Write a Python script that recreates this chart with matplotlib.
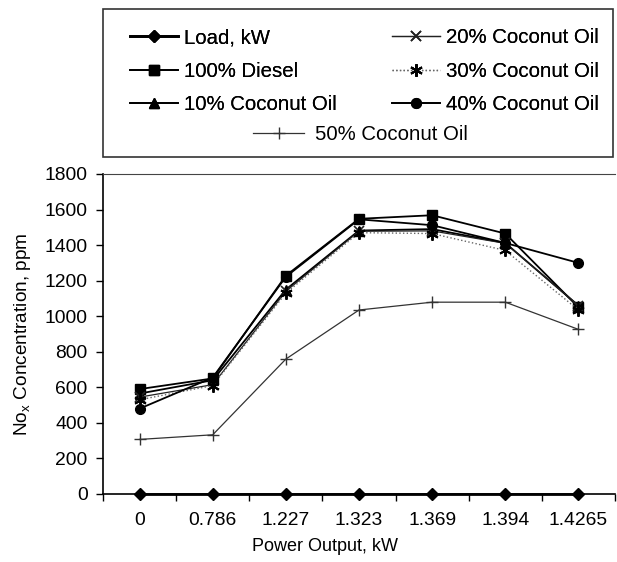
import matplotlib
matplotlib.use("Agg")
import matplotlib.pyplot as plt
from matplotlib.patches import Rectangle

plt.rcParams['font.family'] = ['Liberation Sans', 'DejaVu Sans']
plt.rcParams['mathtext.fontset'] = 'custom'
plt.rcParams['mathtext.rm'] = 'Liberation Sans'
plt.rcParams['mathtext.it'] = 'Liberation Sans'

power_labels = ["0", "0.786", "1.227", "1.323", "1.369", "1.394", "1.4265"]
load_kw = [0, 0, 0, 0, 0, 0, 0]
diesel_100 = [590, 650, 1228, 1548, 1568, 1465, 1050]
coconut_10 = [565, 640, 1150, 1482, 1490, 1412, 1060]
coconut_20 = [545, 615, 1140, 1478, 1480, 1410, 1060]
coconut_30 = [530, 610, 1130, 1470, 1465, 1370, 1035]
coconut_40 = [480, 655, 1222, 1545, 1512, 1412, 1300]
coconut_50 = [307, 333, 759, 1035, 1079, 1079, 926]
y_ticks = [0, 200, 400, 600, 800, 1000, 1200, 1400, 1600, 1800]

W, H = 617, 562
fig = plt.figure(figsize=(W / 100, H / 100), dpi=100)
ax = fig.add_axes([103 / W, (H - 494) / H, 512 / W, 320 / H])

x = list(range(len(power_labels)))
fs_tick = 13.9
fs_leg = 14.7
fs_lab = 13

series = [
    ("Load, kW", load_kw, dict(color='black', lw=2.0, marker='D', ms=6)),
    ("100% Diesel", diesel_100, dict(color='black', lw=1.3, marker='s', ms=6.5)),
    ("10% Coconut Oil", coconut_10, dict(color='black', lw=1.3, marker='^', ms=7)),
    ("20% Coconut Oil", coconut_20, dict(color='#222222', lw=0.9, marker='x', ms=7, mew=1.2)),
    ("30% Coconut Oil", coconut_30, dict(color='#666666', lw=1.0, ls=':', marker=(6, 2, 0), ms=9, mew=1.4, mec='black')),
    ("40% Coconut Oil", coconut_40, dict(color='black', lw=1.3, marker='o', ms=7)),
    ("50% Coconut Oil", coconut_50, dict(color='#333333', lw=0.9, marker='+', ms=8, mew=1.0)),
]

handles = []
for label, vals, style in series:
    h, = ax.plot(x, vals, label=label, clip_on=False, zorder=3, **style)
    handles.append(h)

ax.set_xlim(-0.5, len(x) - 0.5)
ax.set_ylim(0, 1800)
ax.set_yticks(y_ticks)
ax.set_xticks(x)
ax.set_xticklabels(power_labels)
ax.set_xticks([i - 0.5 for i in range(len(x) + 1)], minor=True)
ax.tick_params(axis='x', which='major', length=0, pad=13, labelsize=fs_tick)
ax.tick_params(axis='x', which='minor', length=5, direction='out', width=1)
ax.tick_params(axis='y', length=5, direction='out', width=1, pad=6, labelsize=fs_tick)
ax.spines['right'].set_visible(False)
ax.spines['top'].set_color('#444444')
for s in ('left', 'bottom'):
    ax.spines[s].set_linewidth(1.2)

ax.set_xlabel("Power Output, kW", fontsize=fs_lab)
ax.xaxis.set_label_coords((325 - 103) / 512, (494 - 538) / 320)
ax.set_ylabel(r"No$_\mathregular{x}$ Concentration, ppm", fontsize=fs_lab + 0.7, labelpad=8)

# legend: two columns of three, plus a centered last row
leg1 = fig.legend(handles[:6], [s[0] for s in series[:6]], ncol=2,
                  loc='upper left', bbox_to_anchor=(130 / W, 1 - 28 / H),
                  frameon=False, fontsize=fs_leg, handlelength=2.35,
                  handletextpad=0.3, columnspacing=2.7, labelspacing=0.72,
                  borderpad=0, borderaxespad=0)
fig.add_artist(leg1)
leg2 = fig.legend(handles[6:], [series[6][0]], loc='upper left',
                  bbox_to_anchor=(253 / W, 1 - 125 / H), frameon=False,
                  fontsize=fs_leg, handlelength=2.5, handletextpad=0.55,
                  borderpad=0, borderaxespad=0)
fig.add_artist(Rectangle((103 / W, 1 - 157 / H), 510 / W, 148 / H,
                         transform=fig.transFigure, fill=False,
                         edgecolor='#333333', lw=1.2))

fig.savefig("out.png", dpi=100)
